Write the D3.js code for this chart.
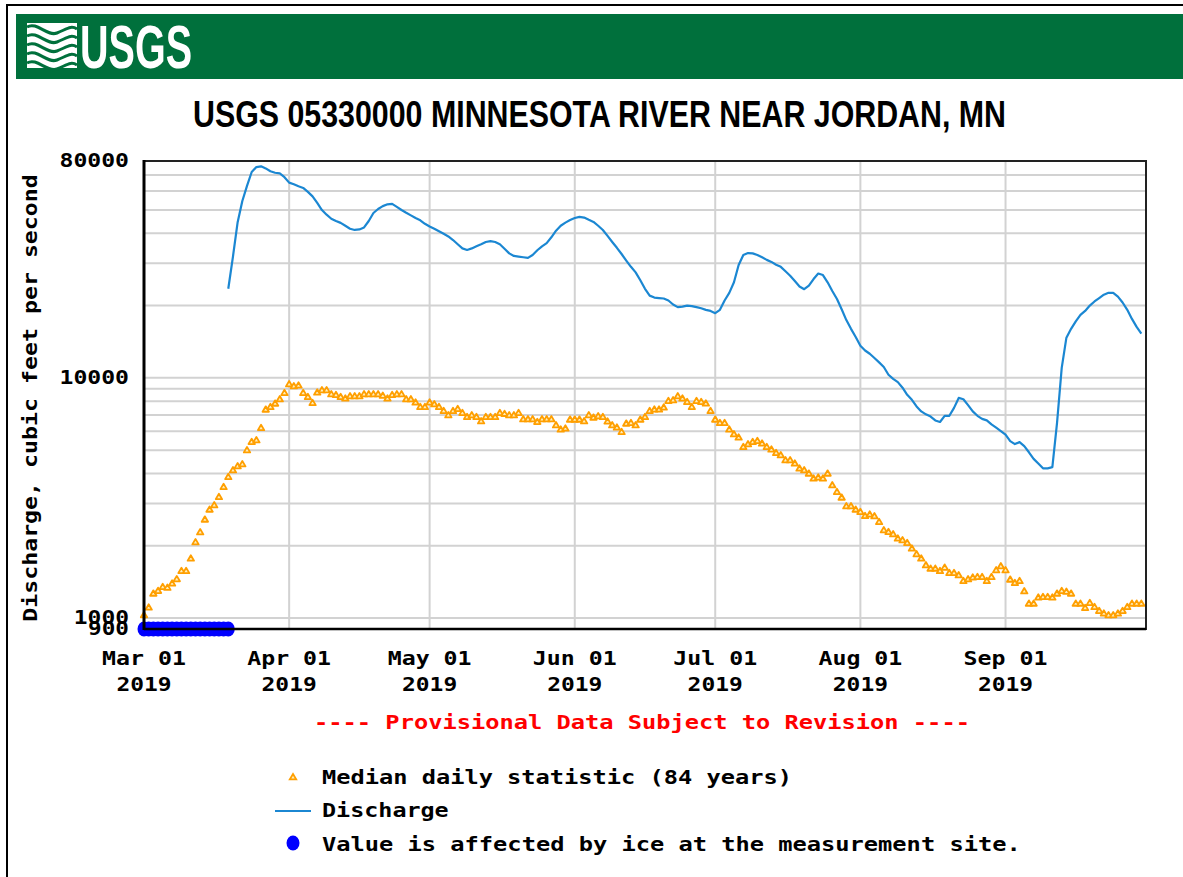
<!DOCTYPE html>
<html>
<head>
<meta charset="utf-8">
<script src="https://cdn.jsdelivr.net/npm/d3@7"></script>
<style>
  html, body { margin: 0; padding: 0; background: #fff; }
  svg { display: block; }
  .mono { font-family: 'DejaVu Sans Mono', 'Liberation Mono', monospace; font-weight: bold; font-size: 20px; }
</style>
</head>
<body>
<script>
// ---------------- DATA ----------------
const titleText = "USGS 05330000 MINNESOTA RIVER NEAR JORDAN, MN";
const yAxisTitle = "Discharge, cubic feet per second";
const provisionalText = "---- Provisional Data Subject to Revision ----";
const legendLabels = ["Median daily statistic (84 years)", "Discharge", "Value is affected by ice at the measurement site."];

const xTickDates = ["2019-03-01","2019-04-01","2019-05-01","2019-06-01","2019-07-01","2019-08-01","2019-09-01"];
const xDomain = ["2019-03-01","2019-10-01"];
const yTickValues = [80000, 10000, 1000, 900];
const yDomain = [900, 80000];
const yGridValues = [1000,2000,3000,4000,5000,6000,7000,8000,9000,10000,20000,30000,40000,50000,60000,70000];

// Median daily statistic, one value per day starting 2019-03-01
const medianStart = "2019-03-01";
const medianValues = [
1030,1108,1267,1300,1350,1340,1395,1455,1574,1574,
1773,2073,2281,2576,2835,2956,3200,3522,3876,4134,
4295,4378,5008,5424,5512,6201,7396,7584,7834,8164,
8674,9430,9250,9315,8674,8348,7880,8707,8901,8901,
8568,8510,8348,8222,8404,8404,8404,8568,8568,8568,
8568,8450,8222,8510,8568,8568,8164,8164,7911,7584,
7584,7911,7782,7584,7299,7005,7299,7440,7161,6890,
7005,6890,6612,6890,6890,6890,7161,7100,7005,7005,
7161,6739,6739,6739,6570,6739,6739,6739,6364,6107,
6165,6720,6720,6720,6612,7005,6850,6940,6890,6600,
6363,6225,5968,6467,6505,6363,6720,6890,7300,7399,
7399,7542,8034,8087,8404,8221,7958,7585,8034,7958,
7836,7300,6720,6505,6505,6106,5837,5656,5169,5304,
5422,5475,5340,5169,5042,4880,4773,4550,4550,4408,
4201,4133,4004,3817,3854,3817,4004,3579,
3357,3181,2927,2927,2835,2771,2667,2703,2659,2518,
2326,2288,2238,2148,2113,2059,1951,1848,1773,1662,
1610,1610,1573,1625,1544,1544,1510,1430,1454,1478,
1486,1486,1430,1486,1585,1646,1585,1449,1403,1430,
1295,1151,1151,1220,1227,1227,1220,1267,1299,1289,
1267,1151,1151,1104,1158,1114,1073,1047,1030,1030,
1047,1073,1114,1151,1151,1151
];

// Discharge, one value per day starting 2019-03-19
const dischargeStart = "2019-03-19";
const dischargeValues = [
23500,32000,44500,54500,63000,72000,75500,76000,74500,72500,
71500,71000,68500,65000,64000,62800,61800,59500,57000,53500,
50000,47800,46000,45000,44200,43000,41800,41300,41500,42300,
45000,48600,50500,51900,52800,53000,51500,50000,48700,47500,
46300,45300,43800,42700,41800,40800,39800,38800,37500,36000,
34600,34100,34600,35300,36000,36800,37100,36800,36000,34500,
33000,32200,32000,31800,31600,32500,34000,35300,36400,38500,
41000,43000,44300,45400,46300,46800,46500,45500,44600,43000,
41300,39000,36800,34800,32800,30800,29000,27500,25500,23500,
22000,21600,21500,21400,21000,20200,19700,19800,20000,19900,
19700,19500,19200,19000,18600,19200,21000,22600,25000,29500,
32500,33100,33000,32500,31800,31000,30400,29600,29000,27800,
26600,25300,24000,23400,24200,25800,27200,26800,25000,23000,
21300,19300,17400,16000,14800,13600,13000,12600,12100,11600,
11100,10300,9900,9600,9100,8500,8100,7600,7250,7050,
6900,6650,6550,6950,6950,7500,8250,8150,7700,7250,
6950,6750,6650,6400,6200,6000,5800,5450,5300,5400,
5200,4900,4600,4400,4200,4200,4250,6500,11000,14700,
16000,17200,18300,19000,20000,20800,21500,22200,22600,22600,
21800,20600,19200,17600,16300,15300
];

// Days with ice-affected values (plotted on the axis floor)
const iceDates = ["2019-03-01","2019-03-02","2019-03-03","2019-03-04","2019-03-05","2019-03-06","2019-03-07",
  "2019-03-08","2019-03-09","2019-03-10","2019-03-11","2019-03-12","2019-03-13","2019-03-14","2019-03-15",
  "2019-03-16","2019-03-17","2019-03-18","2019-03-19"];

// ---------------- DRAW ----------------
const W = 1183, H = 877;
const parse = d3.timeParse("%Y-%m-%d");
const plot = {left: 144, right: 1146, top: 161, bottom: 629};
const CHAR = 14.3;
function mono(sel, per) {
  sel.attr("class", "mono")
     .attr("textLength", d => {
       const s = (typeof d === "string") ? d : null;
       return null;
     });
  sel.each(function() {
    const t = this.textContent;
    d3.select(this).attr("textLength", t.length * (per || CHAR) - 2).attr("lengthAdjust", "spacingAndGlyphs");
  });
  return sel;
}

const svg = d3.select("body").append("svg").attr("width", W).attr("height", H);
svg.append("rect").attr("width", W).attr("height", H).attr("fill", "#fff");

// outer frame
svg.append("path").attr("d", "M7,877V5H1183").attr("fill", "none").attr("stroke", "#000").attr("stroke-width", 2);

// header
const green = "#00703c";
svg.append("rect").attr("x", 16).attr("y", 14).attr("width", W - 16).attr("height", 65).attr("fill", green);
const logo = svg.append("g").attr("transform", "translate(27,23)");
logo.append("rect").attr("width", 50).attr("height", 45).attr("fill", "#fff");
for (let i = 0; i < 5; i++) {
  const o = i * 9;
  logo.append("path")
    .attr("d", `M0,${4 + o} C10,${-2 + o} 20,${14 + o} 30,${10 + o} S44,${2 + o} 50,${6 + o}`)
    .attr("fill", "none").attr("stroke", green).attr("stroke-width", 3);
}
svg.append("text").attr("x", 80).attr("y", 68)
  .attr("font-family", "'Liberation Sans', Arial, sans-serif").attr("font-weight", "bold")
  .attr("font-size", 62).attr("fill", "#fff")
  .attr("textLength", 112).attr("lengthAdjust", "spacingAndGlyphs").text("USGS");

// title
svg.append("text").attr("x", 599.5).attr("y", 127).attr("text-anchor", "middle")
  .attr("font-family", "'Liberation Sans', Arial, sans-serif").attr("font-weight", "bold")
  .attr("font-size", 36).attr("fill", "#000")
  .attr("textLength", 813).attr("lengthAdjust", "spacingAndGlyphs").text(titleText);

// scales
const x = d3.scaleTime().domain(xDomain.map(parse)).range([plot.left, plot.right]);
const y = d3.scaleLog().domain(yDomain).range([plot.bottom, plot.top]);

// grid
const grid = svg.append("g");
grid.selectAll("line.h").data(yGridValues).join("line")
  .attr("x1", plot.left).attr("x2", plot.right)
  .attr("y1", d => y(d)).attr("y2", d => y(d))
  .attr("stroke", "#d2d2d2").attr("stroke-width", 2);
grid.selectAll("line.v").data(xTickDates.slice(1).map(parse)).join("line")
  .attr("x1", d => x(d)).attr("x2", d => x(d))
  .attr("y1", plot.top).attr("y2", plot.bottom)
  .attr("stroke", "#d2d2d2").attr("stroke-width", 2);

// median markers
const markerPath = "M0,-3L3.2,2.4L-3.2,2.4Z";
const medStart = parse(medianStart);
const medianData = medianValues.map((v, i) => ({date: d3.timeDay.offset(medStart, i), v}));
svg.append("g").selectAll("path").data(medianData).join("path")
  .attr("transform", d => `translate(${x(d.date)},${y(d.v)})`)
  .attr("d", markerPath)
  .attr("fill", "#ffeebb").attr("stroke", "#ff9f00").attr("stroke-width", 1.8)
  .attr("stroke-linejoin", "round");

// discharge line
const disStart = parse(dischargeStart);
const dischargeData = dischargeValues.map((v, i) => ({date: d3.timeDay.offset(disStart, i), v}));
svg.append("path").datum(dischargeData)
  .attr("d", d3.line().x(d => x(d.date)).y(d => y(d.v)))
  .attr("fill", "none").attr("stroke", "#1b87d2").attr("stroke-width", 2.2)
  .attr("stroke-linejoin", "round");

// ice-affected values (on the floor of the axis)
svg.append("g").selectAll("ellipse").data(iceDates.map(parse)).join("ellipse")
  .attr("cx", d => x(d)).attr("cy", y(yDomain[0]))
  .attr("rx", 6.5).attr("ry", 7.5).attr("fill", "#0000ff");

// plot frame
svg.append("rect").attr("x", plot.left).attr("y", plot.top)
  .attr("width", plot.right - plot.left).attr("height", plot.bottom - plot.top)
  .attr("fill", "none").attr("stroke", "#222").attr("stroke-width", 2);
svg.append("line").attr("x1", plot.left).attr("x2", plot.left).attr("y1", plot.top - 1).attr("y2", plot.bottom + 1)
  .attr("stroke", "#000").attr("stroke-width", 3);
svg.append("line").attr("x1", plot.left).attr("x2", plot.right).attr("y1", plot.bottom).attr("y2", plot.bottom)
  .attr("stroke", "#000").attr("stroke-width", 2.5);

// x labels
const fmtMD = d3.timeFormat("%b %d"), fmtY = d3.timeFormat("%Y");
const xl = svg.append("g").attr("fill", "#000");
mono(xl.selectAll("text.md").data(xTickDates.map(parse)).join("text")
  .attr("x", d => x(d)).attr("y", 665).attr("text-anchor", "middle").text(fmtMD));
mono(xl.selectAll("text.yr").data(xTickDates.map(parse)).join("text")
  .attr("x", d => x(d)).attr("y", 691).attr("text-anchor", "middle").text(fmtY));

// y labels
mono(svg.append("g").attr("fill", "#000")
  .selectAll("text").data(yTickValues).join("text")
  .attr("x", 129).attr("y", d => y(d) + 6).attr("text-anchor", "end").text(d => String(d)));

// y axis title
mono(svg.append("text").attr("fill", "#000")
  .attr("transform", "translate(37,398) rotate(-90)").attr("text-anchor", "middle").text(yAxisTitle), 14.05);

// provisional
mono(svg.append("text").attr("fill", "#ff0000")
  .attr("x", 642).attr("y", 729).attr("text-anchor", "middle").text(provisionalText));

// legend
const lg = svg.append("g");
lg.append("path").attr("transform", "translate(293,777)").attr("d", markerPath)
  .attr("fill", "#ffeebb").attr("stroke", "#ff9f00").attr("stroke-width", 1.8);
lg.append("line").attr("x1", 275).attr("x2", 311).attr("y1", 811).attr("y2", 811)
  .attr("stroke", "#1b87d2").attr("stroke-width", 2.2);
lg.append("ellipse").attr("cx", 293).attr("cy", 843).attr("rx", 6.5).attr("ry", 7.5).attr("fill", "#0000ff");
mono(lg.selectAll("text").data(legendLabels).join("text").attr("fill", "#000")
  .attr("x", 322).attr("y", (d, i) => [784, 817, 851][i]).text(d => d));
</script>
</body>
</html>
